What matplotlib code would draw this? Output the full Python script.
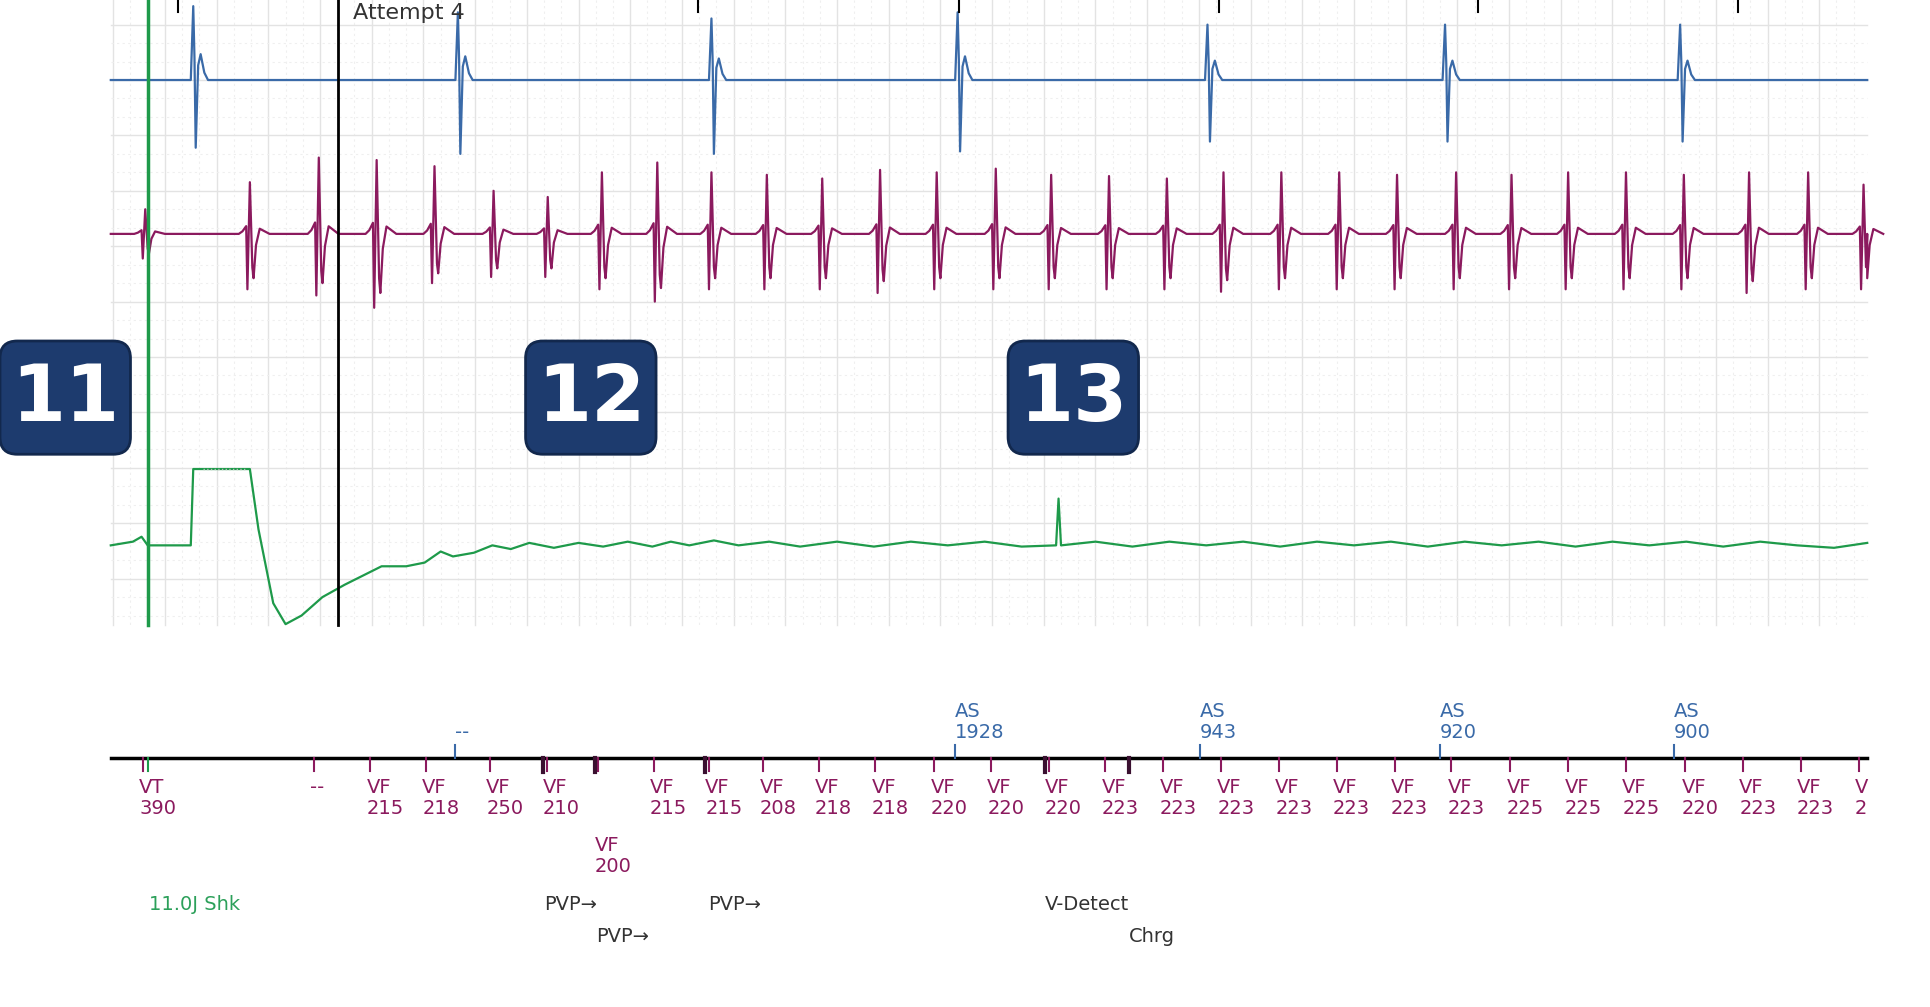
import numpy as np
import matplotlib.pyplot as plt
from matplotlib.patches import FancyBboxPatch

# positions are in the strip's time units (0..1568 across the page)
blue_beats = [158, 373, 579, 779, 982, 1175, 1366]
blue_amp = [(60, -55), (55, -60), (50, -60), (55, -58), (45, -50), (45, -50), (45, -50)]
top_ticks = [145, 567, 779, 990, 1201, 1412]

purple_beats = [117, 202, 258, 305, 352, 400, 444, 488, 533, 577, 622, 667, 714, 760,
                808, 853, 900, 947, 993, 1040, 1087, 1134, 1182, 1227, 1273, 1320,
                1367, 1420, 1468, 1513]
purple_amp = [(20, -20), (42, -45), (62, -50), (60, -60), (55, -40), (35, -35), (30, -35),
              (50, -45), (58, -55), (50, -45), (48, -45), (45, -45), (52, -48), (50, -45),
              (53, -45), (48, -45), (47, -45), (45, -45), (50, -47), (50, -45), (50, -45),
              (48, -45), (50, -45), (48, -45), (50, -45), (50, -45), (48, -45), (50, -48),
              (50, -45), (40, -45)]

# green (far-field) trace keypoints: x, y
green_x = [90, 108, 115, 120, 155, 157, 203, 210, 222, 232, 245, 262, 280, 300, 310, 330,
           345, 358, 368, 385, 400, 415, 430, 450, 470, 490, 510, 530, 545, 560, 580, 600,
           625, 650, 680, 710, 740, 770, 800, 830, 858, 860, 862, 890, 920, 950, 980,
           1010, 1040, 1070, 1100, 1130, 1160, 1190, 1220, 1250, 1280, 1310, 1340, 1370,
           1400, 1430, 1460, 1490, 1517]
green_y = [443, 440, 436, 443, 443, 381, 381, 430, 490, 507, 500, 485, 475, 465, 460, 460,
           457, 448, 452, 449, 443, 446, 441, 445, 441, 444, 440, 444, 440, 443, 439, 443,
           440, 444, 440, 444, 440, 443, 440, 444, 443, 405, 443, 440, 444, 440, 443,
           440, 444, 440, 443, 440, 444, 440, 443, 440, 444, 440, 443, 440,
           444, 440, 443, 445, 441]

as_x = [370, 776, 975, 1170, 1360]
as_lbl = ["--", "AS\n1928", "AS\n943", "AS\n920", "AS\n900"]

vf_x = [113, 252, 298, 343, 395, 441, 483, 528, 573, 617, 662, 708, 756, 802, 849, 895,
        942, 989, 1036, 1083, 1130, 1176, 1224, 1271, 1318, 1366, 1413, 1460, 1507]
vf_lbl = ["VT\n390", "--", "VF\n215", "VF\n218", "VF\n250", "VF\n210", "VF\n200",
          "VF\n215", "VF\n215", "VF\n208", "VF\n218", "VF\n218", "VF\n220", "VF\n220",
          "VF\n220", "VF\n223", "VF\n223", "VF\n223", "VF\n223", "VF\n223", "VF\n223",
          "VF\n223", "VF\n225", "VF\n225", "VF\n225", "VF\n220", "VF\n223", "VF\n223", "V\n2"]
thick_ticks = [441, 483, 573, 849, 917]

notes = [(121, 735, "11.0J Shk", "#2ca05a"), (442, 735, "PVP\u2192", "#333333"),
         (484, 761, "PVP\u2192", "#333333"), (575, 735, "PVP\u2192", "#333333"),
         (849, 735, "V-Detect", "#333333"), (917, 761, "Chrg", "#333333")]

badges = [(53, "11"), (480, "12"), (872, "13")]

BLUE = "#3a6aa8"
PURPLE = "#8b1a5e"
GREEN = "#1e9a4a"


def trace(beats, amps, base, shape):
    xs, ys = [90], [base]
    for b, (up, dn) in zip(beats, amps):
        for dx, f in shape:
            xs.append(b + dx)
            ys.append(base - (up if f > 0 else dn) * abs(f))
    xs.append(1517)
    ys.append(base)
    pts = sorted(zip(xs, ys))
    return [p[0] for p in pts], [p[1] for p in pts]


fig = plt.figure(figsize=(19.3, 10.07), dpi=100)
ax = fig.add_axes([0, 0, 1, 1])
ax.set_xlim(0, 1568)
ax.set_ylim(818, 0)
ax.axis("off")

# grid
for gx in np.arange(92, 1518, 42):
    ax.plot([gx, gx], [0, 508], color="#e3e3e3", lw=1, zorder=0)
    for k in range(1, 3):
        ax.plot([gx + k * 14] * 2, [0, 508], color="#efefef", lw=0.8, ls=(0, (2, 3)), zorder=0)
for gy in np.arange(20, 510, 45):
    ax.plot([90, 1517], [gy, gy], color="#e3e3e3", lw=1, zorder=0)
    for k in range(1, 3):
        ax.plot([90, 1517], [gy + k * 15] * 2, color="#efefef", lw=0.8, ls=(0, (2, 3)), zorder=0)

# blue atrial trace
bshape = [(-3, 0), (-1, 1), (0, 0.3), (1, -1), (3, 0.2), (5, 0.35), (8, 0.1), (11, 0)]
bx, by = trace(blue_beats, blue_amp, 65, bshape)
ax.plot(bx, by, color=BLUE, lw=1.6)
for t in top_ticks:
    ax.plot([t, t], [0, 10], color="black", lw=1.5)

# purple ventricular trace
pshape = [(-8, 0), (-5, 0.05), (-2, 0.15), (-1, -1), (1, 1), (3, -0.6), (4, -0.8),
          (6, -0.2), (9, 0.1), (13, 0.05), (17, 0)]
px, py = trace(purple_beats, purple_amp, 190, pshape)
ax.plot(px, py, color=PURPLE, lw=1.6)

# green trace
ax.plot(green_x, green_y, color=GREEN, lw=1.6)
ax.plot([165, 200], [381, 381], color="#bbbbbb", lw=1, ls=":")

# markers
ax.plot([120, 120], [0, 508], color=GREEN, lw=2.5)
ax.plot([275, 275], [0, 508], color="black", lw=2)
ax.text(287, 19, "Attempt 4", fontsize=16, color="#333333", va="bottom")

# badges
for cx, lbl in badges:
    ax.add_patch(FancyBboxPatch((cx - 50, 280), 100, 86,
                                boxstyle="round,pad=3,rounding_size=14",
                                fc="#1d3b6e", ec="#12284d", lw=2, zorder=5))
    ax.text(cx, 324, lbl, fontsize=56, fontweight="bold", color="white",
            ha="center", va="center", zorder=6)

# marker channel
ax.plot([90, 1517], [616, 616], color="black", lw=2.5)
for x, lbl in zip(as_x, as_lbl):
    ax.plot([x, x], [605, 616], color=BLUE, lw=1.5)
    ax.text(x, 603, lbl, fontsize=14, color=BLUE, ha="left", va="bottom", linespacing=1.15)
for x, lbl in zip(vf_x, vf_lbl):
    ax.plot([x + 3, x + 3], [616, 626], color=PURPLE, lw=1.5)
    yy = 679 if x == 483 else 632
    ax.text(x, yy, lbl, fontsize=14, color=PURPLE, ha="left", va="top", linespacing=1.15)
ax.plot([120, 120], [616, 626], color=GREEN, lw=1.5)
for x in thick_ticks:
    ax.plot([x, x], [616, 627], color="#3a1030", lw=3)
for x, y, s, c in notes:
    ax.text(x, y, s, fontsize=14, color=c, ha="left", va="center")

fig.savefig("out.png", dpi=100, facecolor="white")
